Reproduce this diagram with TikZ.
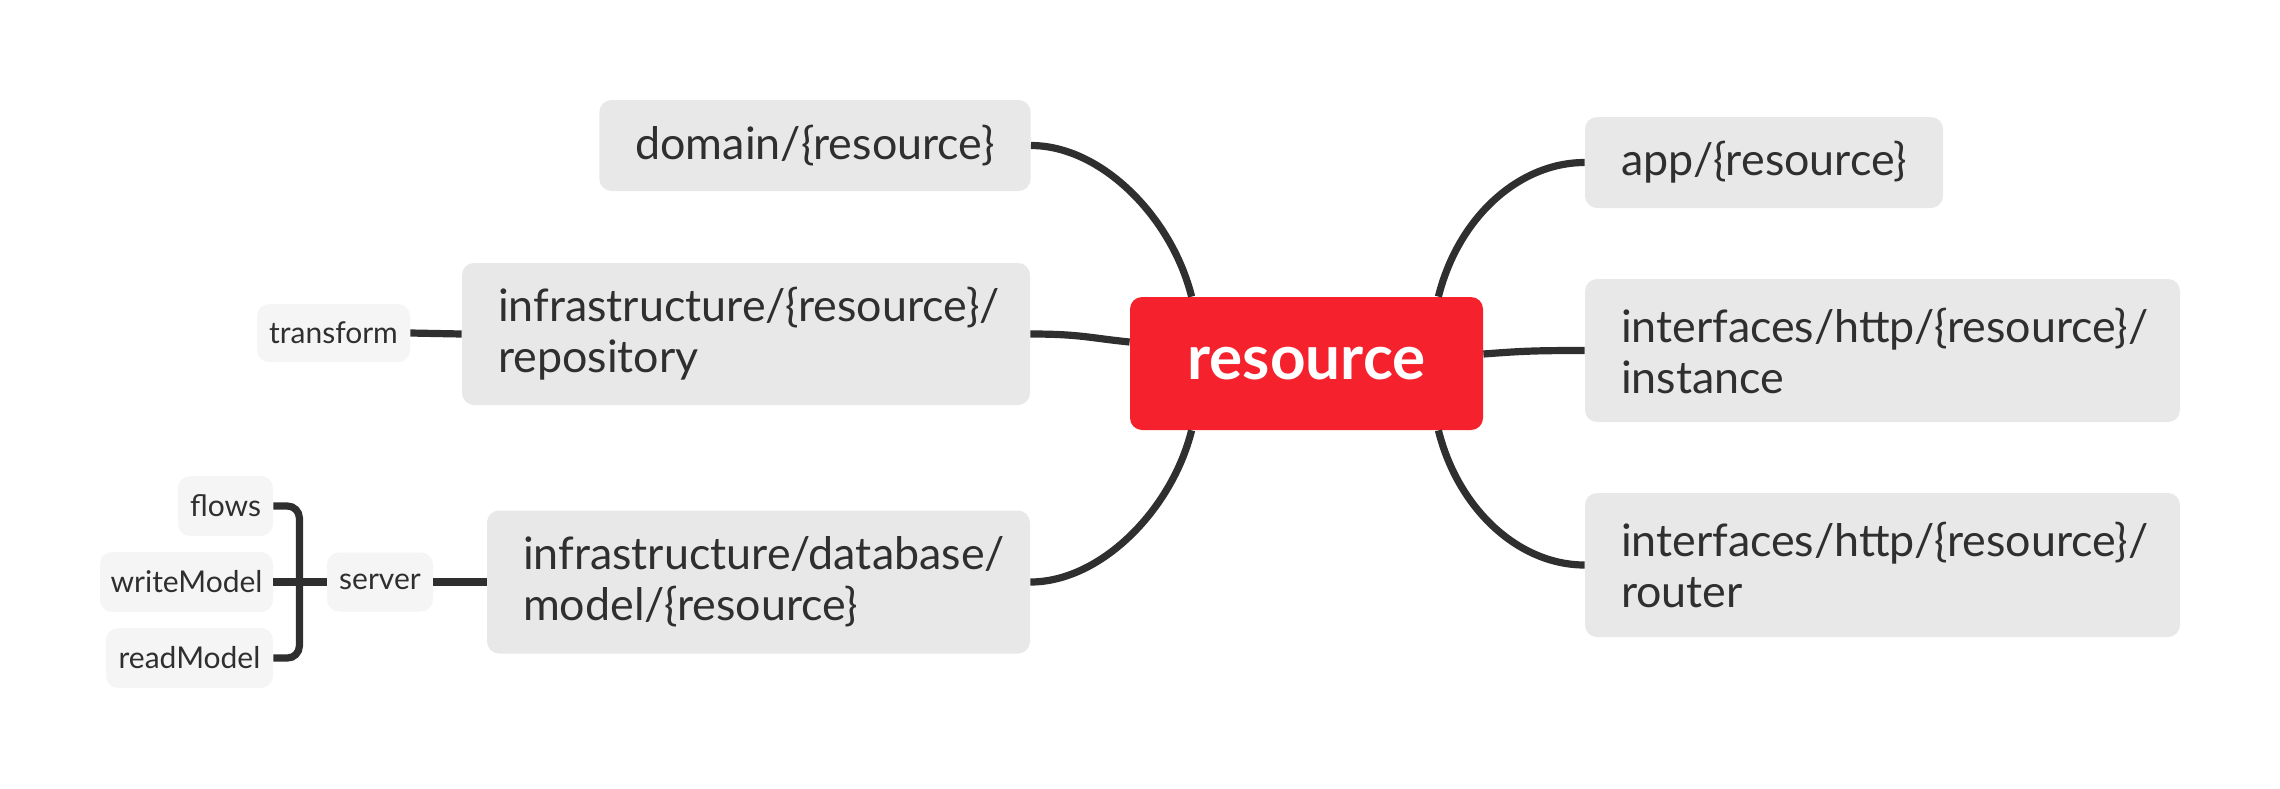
\documentclass[tikz,border=0pt]{standalone}
\usepackage{fontspec}
\setmainfont{Lato}
\definecolor{ink}{HTML}{2F2F2F}
\definecolor{boxgray}{HTML}{E8E8E8}
\definecolor{smallgray}{HTML}{F5F5F5}
\definecolor{rootred}{HTML}{F5222D}
\tikzset{
  topic/.style={fill=boxgray, rounded corners=6pt, text=ink, font=\fontsize{22.4pt}{25.5pt}\selectfont, inner xsep=18pt, inner ysep=0pt, align=left},
  subtopic/.style={fill=smallgray, rounded corners=6pt, text=ink, font=\fontsize{15pt}{17pt}\selectfont, inner sep=0pt},
  rootbox/.style={fill=rootred, rounded corners=6pt, text=white, font=\fontsize{31pt}{36pt}\selectfont\bfseries, inner sep=0pt},
  link/.style={draw=ink, line width=3.6pt}
}
\begin{document}
\begin{tikzpicture}[x=0.5pt,y=-0.5pt]
\useasboundingbox (0,0) rectangle (2280,788);
% nodes
\node[rootbox, minimum width=176.5pt, minimum height=66.5pt] (root) at (1306.5,363.5) {resource};
\node[topic, minimum width=215pt, minimum height=45.5pt] (domain) at (815,145.5) {domain/\{resource\}};
\node[topic, minimum width=284pt, minimum height=71pt, text width=248pt] (repo) at (746,334) {infrastructure/\{resource\}/\\repository};
\node[topic, minimum width=271.5pt, minimum height=71.5pt, text width=235.5pt] (db) at (758.5,582) {infrastructure/database/\\model/\{resource\}};
\node[topic, minimum width=179pt, minimum height=45.5pt] (app) at (1764,162.5) {app/\{resource\}};
\node[topic, minimum width=297.5pt, minimum height=71.5pt, text width=261.5pt] (inst) at (1882.5,350.5) {interfaces/http/\{resource\}/\\instance};
\node[topic, minimum width=297.5pt, minimum height=72pt, text width=261.5pt] (router) at (1882.5,565) {interfaces/http/\{resource\}/\\router};
\node[subtopic, minimum width=76.5pt, minimum height=29pt] (transform) at (333.5,333) {transform};
\node[subtopic, minimum width=53pt, minimum height=29.5pt] (server) at (380,582) {server};
\node[subtopic, minimum width=47.5pt, minimum height=30pt] (flows) at (225.5,506) {flows};
\node[subtopic, minimum width=86.5pt, minimum height=30pt] (write) at (186.5,582) {writeModel};
\node[subtopic, minimum width=83.5pt, minimum height=30pt] (read) at (189.5,658) {readModel};
% connectors
\draw[link] (domain.east) .. controls +(70,0) and +(-20,-80) .. ([xshift=31pt]root.north west);
\draw[link] (db.east) .. controls +(70,0) and +(-20,80) .. ([xshift=31pt]root.south west);
\draw[link] (repo.east) .. controls +(50,0) and +(-40,-4) .. ([yshift=10.75pt]root.west);
\draw[link] ([xshift=-22.5pt]root.north east) .. controls +(20,-80) and +(-65,0) .. (app.west);
\draw[link] ([xshift=-22.5pt]root.south east) .. controls +(20,80) and +(-65,0) .. (router.west);
\draw[link] ([yshift=4.75pt]root.east) .. controls +(40,-3) and +(-50,0) .. (inst.west);
\draw[link] (transform.east) -- (repo.west);
\draw[link] (server.east) -- (db.west);
\draw[link] (write.east) -- (server.west);
\draw[link, rounded corners=6pt] (flows.east) -- ([xshift=13pt]flows.east) |- (read.east);
\end{tikzpicture}
\end{document}
